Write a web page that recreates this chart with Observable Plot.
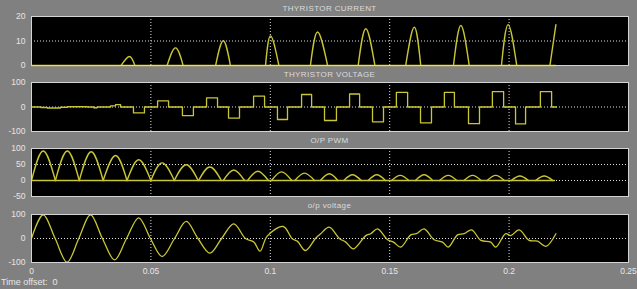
<!DOCTYPE html>
<html>
<head>
<meta charset="utf-8">
<script src="https://cdn.jsdelivr.net/npm/d3@7"></script>
<script src="https://cdn.jsdelivr.net/npm/@observablehq/plot@0.6"></script>
<style>
  html, body { margin: 0; padding: 0; background: #808080; }
  #wrap { position: relative; width: 637px; height: 289px; background: #808080; overflow: hidden;
          font-family: "Liberation Sans", Arial, sans-serif; }
  .panel { position: absolute; left: 0; }
  .ttl { position: absolute; left: 31px; width: 597px; text-align: center; font-size: 8px;
         color: #dcdcdc; letter-spacing: 0.4px; line-height: 10px; }
  #offset { position: absolute; left: 1px; top: 277px; font-size: 9px; color: #e6e6e6; }
</style>
</head>
<body>
<div id="wrap">
  <div class="ttl" style="top:4px">THYRISTOR CURRENT</div>
  <div class="ttl" style="top:70px">THYRISTOR VOLTAGE</div>
  <div class="ttl" style="top:136px">O/P PWM</div>
  <div class="ttl" style="top:201px">o/p voltage</div>
  <div id="offset">Time offset:&nbsp;&nbsp;0</div>
</div>
<script>
// ---------- shared axis data ----------
const xDomain = [0, 0.25];
const xTicks = [0, 0.05, 0.1, 0.15, 0.2, 0.25];
const xTickLabels = ["0", "0.05", "0.1", "0.15", "0.2", "0.25"];
const xGrid = [0.05, 0.1, 0.15, 0.2];

// ---------- panel 1: thyristor current (half-sine pulses) ----------
const curStart = [0.0375, 0.0568, 0.0771, 0.0980, 0.1168, 0.1368, 0.1567, 0.1767, 0.1968];
const curPeakT = [0.0410, 0.0603, 0.0803, 0.1001, 0.1198, 0.1400, 0.1603, 0.1798, 0.1996];
const curPeak  = [3.7, 7.2, 10.1, 12.1, 13.7, 15.0, 15.6, 16.3, 16.7];
const curEnd   = [0.0433, 0.0635, 0.0833, 0.1036, 0.1240, 0.1438, 0.1630, 0.1833, 0.2032];
const curLastT = [0.2171, 0.2196];
const curLastV = [0, 16.7];
const curTicks = [0, 10, 20];

// ---------- panel 2: thyristor voltage (steps) ----------
const vNoiseT = [0, 0.0040, 0.0066, 0.0121, 0.0150, 0.0233, 0.0261, 0.0275, 0.0331, 0.0352, 0.0373];
const vNoiseV = [0, -2, -4, -1, 1, 0, -3, 0, 5, 10, 0];
const vOn  = [0.0427, 0.0528, 0.0632, 0.0733, 0.0825, 0.0930, 0.1030, 0.1131, 0.1227,
              0.1332, 0.1428, 0.1528, 0.1629, 0.1729, 0.1830, 0.1930, 0.2027, 0.2131];
const vOff = [0.0473, 0.0574, 0.0678, 0.0779, 0.0871, 0.0976, 0.1072, 0.1173, 0.1277,
              0.1374, 0.1474, 0.1575, 0.1675, 0.1771, 0.1876, 0.1977, 0.2069, 0.2178];
const vLevel = [-24, 25, -35, 37, -45, 44, -51, 51, -55, 53, -61, 60, -65, 60, -68, 63, -69, 63];
const vEndT = 0.2198;
const voltTicks = [-100, 0, 100];

// ---------- panel 3: O/P PWM (rectified humps) ----------
const pwmStart = [0.0000, 0.0100, 0.0200, 0.0300, 0.0400, 0.0500, 0.0598, 0.0700, 0.0803, 0.0905, 0.1005,
                  0.1103, 0.1210, 0.1308, 0.1410, 0.1508, 0.1608, 0.1709, 0.1811, 0.1908, 0.2009, 0.2111];
const pwmPeakT = [0.0049, 0.0150, 0.0250, 0.0352, 0.0449, 0.0547, 0.0648, 0.0747, 0.0847, 0.0948, 0.1047,
                  0.1143, 0.1247, 0.1344, 0.1446, 0.1544, 0.1644, 0.1745, 0.1847, 0.1944, 0.2045, 0.2147];
const pwmPeak  = [92, 92, 90, 78, 65, 55, 49, 42, 33, 29, 27, 23, 21, 18, 18, 16, 18, 16, 16, 16, 14, 14];
const pwmEnd   = [0.0100, 0.0200, 0.0300, 0.0400, 0.0500, 0.0598, 0.0698, 0.0795, 0.0892, 0.0992, 0.1090,
                  0.1185, 0.1283, 0.1381, 0.1482, 0.1580, 0.1680, 0.1781, 0.1883, 0.1980, 0.2081, 0.2183];
const pwmEndT = 0.2190;
const pwmTicks = [-50, 0, 50, 100];
const pwmGrid = [0, 50];

// ---------- panel 4: o/p voltage ----------
const outT = [0, 0.0049, 0.0099, 0.0149, 0.0198, 0.0247, 0.0297, 0.0348, 0.0398, 0.0449, 0.0498,
              0.0547, 0.0599, 0.0648, 0.0697, 0.0747, 0.0796, 0.0847, 0.0896, 0.0931, 0.0957,
              0.0987, 0.1054, 0.1092, 0.1114, 0.1147, 0.1189, 0.1210, 0.1247, 0.1289, 0.1316,
              0.1348, 0.1400, 0.1421, 0.1449, 0.1491, 0.1516, 0.1546, 0.1588, 0.1612, 0.1644,
              0.1686, 0.1721, 0.1745, 0.1784, 0.1812, 0.1843, 0.1882, 0.1923, 0.1944, 0.1986,
              0.2007, 0.2042, 0.2084, 0.2119, 0.2154, 0.2196];
const outV = [0, 99, 0, -99, 0, 99, 0, -89, 0, 86, 0,
              -75, 0, 71, 0, -61, 0, 61, 0, -15, -53,
              10, 50, -1, -12, -50, 0, 19, 47, 0, -15,
              -43, 12, 20, 40, -5, -15, -36, 15, 20, 40,
              -5, -15, -36, 15, 20, 36, -8, -15, -36, 20,
              12, 36, -8, -11, -33, 20];
const outTicks = [-100, 0, 100];

// ---------- build series ----------
const curBase = [{x: 0, y: 0}, {x: curLastT[1], y: 0}];
const curPulses = [];
curStart.forEach((s, i) => {
  curPulses.push({x: s, y: 0, k: i}, {x: curPeakT[i], y: curPeak[i], k: i}, {x: curEnd[i], y: 0, k: i});
});
curLastT.forEach((t, i) => curPulses.push({x: t, y: curLastV[i], k: 99}));

const volt = [];
vNoiseT.forEach((t, i) => volt.push({x: t, y: vNoiseV[i]}));
vOn.forEach((t, i) => { volt.push({x: t, y: vLevel[i]}, {x: vOff[i], y: 0}); });
volt.push({x: vEndT, y: 0});

const pwmBase = [{x: 0, y: 0}, {x: pwmEndT, y: 0}];
const pwm = [];
pwmStart.forEach((s, i) => {
  pwm.push({x: s, y: 0, k: i}, {x: pwmPeakT[i], y: pwmPeak[i], k: i}, {x: pwmEnd[i], y: 0, k: i});
});

const outData = outT.map((t, i) => ({x: t, y: outV[i]}));

// ---------- styling ----------
const LINE = "#c9c636";
const GRID = "#e0e0e0";
const FRAME = "#d4d4d4";

function panel({top, height, mt, mb, yDomain, yTicks, yGrid, marks, xAxis}) {
  const plot = Plot.plot({
    width: 637, height,
    marginLeft: 31, marginRight: 9, marginTop: mt, marginBottom: mb,
    style: {background: "transparent", color: "#e6e6e6", fontSize: "8.5px",
            fontFamily: "Liberation Sans, Arial, sans-serif", overflow: "visible"},
    x: {type: "linear", domain: xDomain, axis: null},
    y: {type: "linear", domain: yDomain, axis: null},
    marks: [
      Plot.frame({fill: "black", stroke: null}),
      Plot.ruleX(xGrid, {stroke: GRID, strokeDasharray: "1,2", strokeWidth: 1}),
      Plot.ruleY(yGrid, {stroke: GRID, strokeDasharray: "1,2", strokeWidth: 1}),
      ...marks,
      Plot.frame({stroke: FRAME, strokeWidth: 1}),
      Plot.axisY({ticks: yTicks, tickSize: 0, tickPadding: 6, tickFormat: d => String(d), label: null}),
      ...(xAxis ? [Plot.axisX({ticks: xTicks, tickSize: 0, tickPadding: 5, label: null,
                               tickFormat: d => xTickLabels[xTicks.indexOf(d)] ?? String(d)})] : [])
    ]
  });
  plot.classList.add("panel");
  plot.style.top = top + "px";
  document.getElementById("wrap").appendChild(plot);
}

panel({top: 0, height: 70, mt: 16, mb: 5, yDomain: [0, 20], yTicks: curTicks, yGrid: [10],
  marks: [
    Plot.line(curBase, {x: "x", y: "y", stroke: LINE, strokeWidth: 1.3}),
    Plot.line(curPulses, {x: "x", y: "y", z: "k", curve: "natural", stroke: LINE, strokeWidth: 1.4, clip: true})
  ]});

panel({top: 70, height: 66, mt: 12, mb: 5, yDomain: [-100, 100], yTicks: voltTicks, yGrid: [0],
  marks: [
    Plot.line(volt, {x: "x", y: "y", curve: "step-after", stroke: LINE, strokeWidth: 1.3})
  ]});

panel({top: 136, height: 66, mt: 12, mb: 6, yDomain: [-50, 100], yTicks: pwmTicks, yGrid: pwmGrid,
  marks: [
    Plot.line(pwmBase, {x: "x", y: "y", stroke: LINE, strokeWidth: 1.3}),
    Plot.line(pwm, {x: "x", y: "y", z: "k", curve: "natural", stroke: LINE, strokeWidth: 1.4, clip: true})
  ]});

panel({top: 202, height: 87, mt: 12, mb: 27, yDomain: [-100, 100], yTicks: outTicks, yGrid: [0], xAxis: true,
  marks: [
    Plot.line(outData, {x: "x", y: "y", curve: "catmull-rom", stroke: LINE, strokeWidth: 1.3, clip: true})
  ]});
</script>
</body>
</html>
